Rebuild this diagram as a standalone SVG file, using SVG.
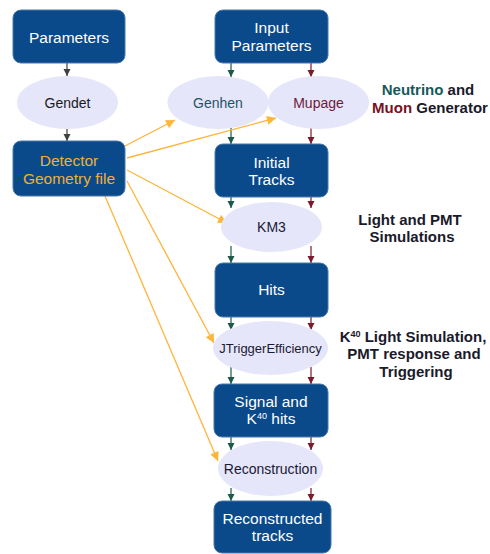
<svg xmlns="http://www.w3.org/2000/svg" width="490" height="554" viewBox="0 0 490 554">
<style>
.box{fill:#0a4a8b;stroke:#4a78aa;stroke-width:1}
.ell{fill:#e6e6fa}
.bt{font-family:"Liberation Sans",Arial,sans-serif;font-size:15.5px;fill:#ffffff;text-anchor:middle}
.et{font-family:"Liberation Sans",Arial,sans-serif;font-size:14px;fill:#1a1a33;text-anchor:middle}
.side{font-family:"Liberation Sans",Arial,sans-serif;font-size:15px;font-weight:bold;fill:#1a1a2a;text-anchor:middle}
.g{stroke:#1b5a4a;stroke-width:1.2;fill:none}
.r{stroke:#7a1a2a;stroke-width:1.2;fill:none}
.k{stroke:#404040;stroke-width:1.2;fill:none}
.o{stroke:#fdb53a;stroke-width:1.3;fill:none}
</style>
<defs>
<marker id="mg" viewBox="0 0 10 10" refX="10" refY="5" markerWidth="7" markerHeight="8" markerUnits="userSpaceOnUse" orient="auto"><path d="M0,0L10,5L0,10z" fill="#1b5a4a"/></marker>
<marker id="mr" viewBox="0 0 10 10" refX="10" refY="5" markerWidth="7" markerHeight="8" markerUnits="userSpaceOnUse" orient="auto"><path d="M0,0L10,5L0,10z" fill="#7a1a2a"/></marker>
<marker id="mk" viewBox="0 0 10 10" refX="10" refY="5" markerWidth="7" markerHeight="8" markerUnits="userSpaceOnUse" orient="auto"><path d="M0,0L10,5L0,10z" fill="#404040"/></marker>
<marker id="mo" viewBox="0 0 10 10" refX="10" refY="5" markerWidth="12" markerHeight="9" markerUnits="userSpaceOnUse" orient="auto"><path d="M0,0L10,5L0,10z" fill="#fdb53a"/></marker>
</defs>
<rect width="490" height="554" fill="#ffffff"/>

<g id="connectors">
<line class="k" x1="67" y1="63" x2="67" y2="76" marker-end="url(#mk)"/>
<line class="k" x1="67" y1="129" x2="67" y2="141" marker-end="url(#mk)"/>
<line class="g" x1="231" y1="63" x2="231" y2="77" marker-end="url(#mg)"/>
<line class="r" x1="311" y1="63" x2="311" y2="77" marker-end="url(#mr)"/>
<line class="g" x1="231" y1="128" x2="231" y2="144" marker-end="url(#mg)"/>
<line class="r" x1="311" y1="128" x2="311" y2="144" marker-end="url(#mr)"/>
<line class="g" x1="231" y1="197" x2="231" y2="208" marker-end="url(#mg)"/>
<line class="r" x1="311" y1="197" x2="311" y2="208" marker-end="url(#mr)"/>
<line class="g" x1="231" y1="246" x2="231" y2="263" marker-end="url(#mg)"/>
<line class="r" x1="311" y1="246" x2="311" y2="263" marker-end="url(#mr)"/>
<line class="g" x1="231" y1="317" x2="231" y2="330" marker-end="url(#mg)"/>
<line class="r" x1="311" y1="317" x2="311" y2="330" marker-end="url(#mr)"/>
<line class="g" x1="231" y1="367" x2="231" y2="384" marker-end="url(#mg)"/>
<line class="r" x1="311" y1="367" x2="311" y2="384" marker-end="url(#mr)"/>
<line class="g" x1="231" y1="437" x2="231" y2="450" marker-end="url(#mg)"/>
<line class="r" x1="311" y1="437" x2="311" y2="450" marker-end="url(#mr)"/>
<line class="g" x1="231" y1="488" x2="231" y2="501" marker-end="url(#mg)"/>
<line class="r" x1="311" y1="488" x2="311" y2="501" marker-end="url(#mr)"/>
<line class="o" x1="125" y1="146" x2="175" y2="120" marker-end="url(#mo)"/>
<line class="o" x1="127" y1="158" x2="276" y2="118" marker-end="url(#mo)"/>
<line class="o" x1="127" y1="170" x2="227" y2="223" marker-end="url(#mo)"/>
<line class="o" x1="127" y1="181" x2="214" y2="343" marker-end="url(#mo)"/>
<line class="o" x1="105" y1="196" x2="218" y2="461" marker-end="url(#mo)"/>
</g>

<g id="parameters"><rect class="box" x="13" y="10" width="112" height="53" rx="8"/><text class="bt" x="69" y="43">Parameters</text></g>
<g id="gendet"><ellipse class="ell" cx="67.5" cy="102.5" rx="50.5" ry="26.5"/><text class="et" x="67.5" y="107.5" style="fill:#1a1a1a">Gendet</text></g>
<g id="detector"><rect class="box" x="13" y="141" width="112" height="55" rx="8"/><text class="bt" x="69" y="166" style="fill:#f0b030">Detector</text><text class="bt" x="69" y="184" style="fill:#f0b030">Geometry file</text></g>
<g id="input-parameters"><rect class="box" x="215" y="10" width="113" height="53" rx="8"/><text class="bt" x="271.5" y="33">Input</text><text class="bt" x="271.5" y="51">Parameters</text></g>
<g id="genhen"><ellipse class="ell" cx="218" cy="102.5" rx="50.5" ry="26.5"/><text class="et" x="218" y="107.5" style="fill:#1f5566">Genhen</text></g>
<g id="mupage"><ellipse class="ell" cx="318.5" cy="102.5" rx="50.5" ry="26.5"/><text class="et" x="318.5" y="107.5" style="fill:#6e1a3a">Mupage</text></g>
<g id="initial-tracks"><rect class="box" x="215" y="144" width="113" height="53" rx="8"/><text class="bt" x="271.5" y="168">Initial</text><text class="bt" x="271.5" y="185">Tracks</text></g>
<g id="km3"><ellipse class="ell" cx="271.5" cy="227" rx="50.5" ry="25"/><text class="et" x="271.5" y="232">KM3</text></g>
<g id="hits"><rect class="box" x="215" y="263" width="113" height="54" rx="8"/><text class="bt" x="271.5" y="295">Hits</text></g>
<g id="jtrigger"><ellipse class="ell" cx="270.5" cy="348" rx="57.5" ry="27"/><text class="et" x="270.5" y="353" style="font-size:13px">JTriggerEfficiency</text></g>
<g id="signal-hits"><rect class="box" x="214" y="384" width="114" height="53" rx="8"/><text class="bt" x="271" y="407">Signal and</text><text class="bt" x="271" y="424">K<tspan dy="-5" font-size="9">40</tspan><tspan dy="5"> hits</tspan></text></g>
<g id="reconstruction"><ellipse class="ell" cx="270.5" cy="468.5" rx="52.5" ry="27.5"/><text class="et" x="270.5" y="473.5">Reconstruction</text></g>
<g id="reconstructed-tracks"><rect class="box" x="214" y="501" width="117" height="52" rx="8"/><text class="bt" x="272.5" y="524">Reconstructed</text><text class="bt" x="272.5" y="541">tracks</text></g>

<g id="labels">
<text class="side" x="428" y="95"><tspan style="fill:#155a5a">Neutrino</tspan> and</text>
<text class="side" x="430" y="113"><tspan style="fill:#7a1020">Muon</tspan> Generator</text>
<text class="side" x="410" y="225">Light and PMT</text>
<text class="side" x="412" y="242">Simulations</text>
<text class="side" x="413" y="342">K<tspan dy="-5" font-size="9">40</tspan><tspan dy="5"> Light Simulation,</tspan></text>
<text class="side" x="414" y="359">PMT response and</text>
<text class="side" x="416" y="377">Triggering</text>
</g>
</svg>
